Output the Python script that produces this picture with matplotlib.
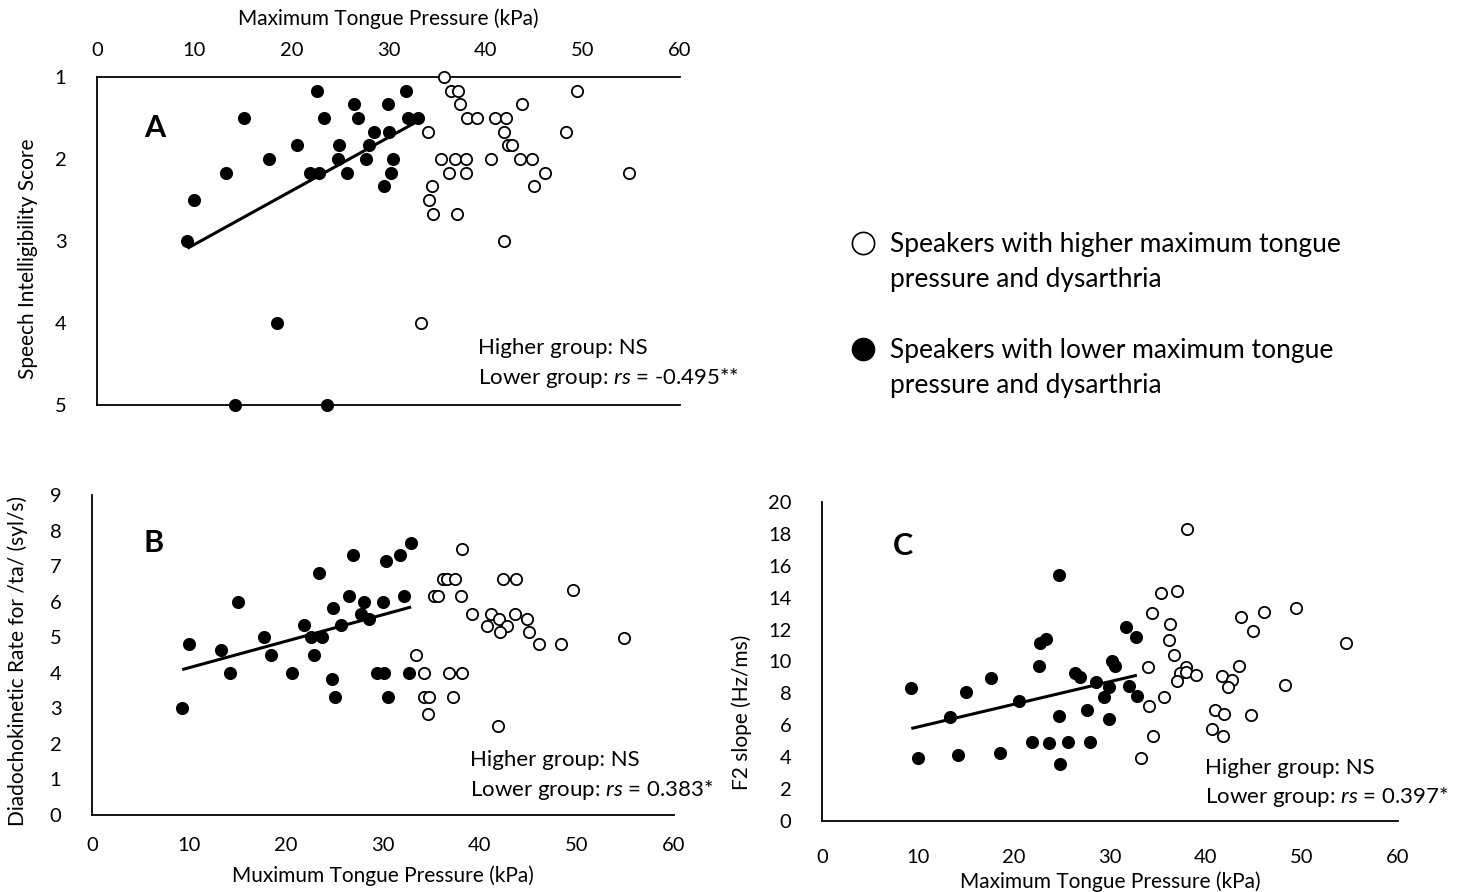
import matplotlib
matplotlib.use("Agg")
import matplotlib.pyplot as plt
import numpy as np
from matplotlib.lines import Line2D

plt.rcParams['font.family'] = ['Lato', 'DejaVu Sans']
plt.rcParams['mathtext.fontset'] = 'custom'
plt.rcParams['mathtext.rm'] = 'Lato'
plt.rcParams['mathtext.it'] = 'Lato:italic'

# Panel A: speech intelligibility score
a_low_x = [22.6, 31.8, 26.5, 29.9, 15.1, 23.4, 26.9, 32.0, 33.0, 28.5, 30.0, 20.6, 24.9, 28.0, 17.7,
           24.8, 27.7, 30.5, 13.3, 21.9, 22.8, 25.7, 30.3, 29.5, 10.0, 9.3, 18.5, 14.2, 23.7]
a_low_y = [1.17, 1.17, 1.33, 1.33, 1.5, 1.5, 1.5, 1.5, 1.5, 1.67, 1.67, 1.83, 1.83, 1.83, 2.0,
           2.0, 2.0, 2.0, 2.17, 2.17, 2.17, 2.17, 2.17, 2.33, 2.5, 3.0, 4.0, 5.0, 5.0]
a_high_x = [35.7, 36.4, 37.2, 49.4, 37.4, 43.7, 38.1, 39.1, 41.0, 42.1, 34.1, 41.9, 48.3, 42.3, 42.7, 35.4,
            36.8, 38.0, 40.6, 43.5, 44.8, 36.2, 38.0, 46.1, 54.7, 34.5, 45.0, 34.2, 34.6, 37.1, 41.9, 33.3]
a_high_y = [1.0, 1.17, 1.17, 1.17, 1.33, 1.33, 1.5, 1.5, 1.5, 1.5, 1.67, 1.67, 1.67, 1.83, 1.83, 2.0,
            2.0, 2.0, 2.0, 2.0, 2.0, 2.17, 2.17, 2.17, 2.17, 2.33, 2.33, 2.5, 2.67, 2.67, 3.0, 4.0]
a_fit = (-0.0654, 3.698)  # slope, intercept

# Panel B: diadochokinetic rate
b_low_x = [32.9, 26.9, 31.8, 30.3, 23.4, 26.5, 32.2, 15.1, 28.0, 30.0, 24.8, 27.7, 28.6, 25.7, 21.9, 22.6,
           23.7, 17.7, 10.0, 13.3, 18.5, 22.9, 14.2, 20.6, 29.4, 30.1, 32.7, 24.7, 25.0, 30.5, 9.3]
b_low_y = [7.65, 7.30, 7.30, 7.14, 6.81, 6.15, 6.15, 5.98, 5.98, 5.98, 5.82, 5.66, 5.50, 5.33, 5.33, 5.0,
           5.0, 5.0, 4.82, 4.65, 4.49, 4.49, 4.0, 4.0, 4.0, 4.0, 4.0, 3.83, 3.32, 3.32, 3.0]
b_high_x = [38.1, 36.2, 36.6, 37.4, 42.4, 43.7, 49.6, 35.3, 35.7, 38.0, 39.2, 41.1, 43.6, 42.0, 44.8, 40.7,
            42.8, 42.1, 45.1, 54.8, 46.1, 48.4, 33.4, 34.2, 36.8, 38.1, 34.2, 34.7, 37.2, 34.6, 41.9]
b_high_y = [7.47, 6.65, 6.65, 6.65, 6.65, 6.65, 6.32, 6.15, 6.15, 6.15, 5.65, 5.65, 5.65, 5.50, 5.50, 5.32,
            5.32, 5.15, 5.15, 4.99, 4.82, 4.82, 4.49, 4.0, 4.0, 4.0, 3.32, 3.32, 3.32, 2.83, 2.50]
b_fit = (0.0746, 3.396)

# Panel C: F2 slope
c_low_x = [24.7, 31.7, 32.7, 23.3, 22.7, 30.2, 30.5, 22.6, 26.4, 26.9, 17.6, 28.5, 9.3, 29.9, 32.0, 15.0,
           32.8, 29.4, 20.5, 13.3, 24.7, 27.6, 29.9, 21.9, 23.6, 25.6, 27.9, 10.0, 14.2, 18.5, 24.8]
c_low_y = [15.43, 12.15, 11.56, 11.41, 11.14, 10.05, 9.74, 9.74, 9.28, 9.05, 8.94, 8.69, 8.34, 8.38, 8.44,
           8.06, 7.83, 7.79, 7.54, 6.49, 6.60, 6.97, 6.39, 4.96, 4.88, 4.96, 4.98, 3.92, 4.15, 4.29, 3.60]
c_high_x = [38.0, 35.3, 37.0, 49.4, 34.4, 46.0, 43.6, 36.3, 44.9, 36.1, 54.6, 36.7, 34.0, 43.4, 37.9, 37.3,
            37.9, 39.0, 41.7, 42.7, 37.0, 42.3, 48.2, 35.6, 34.1, 40.9, 41.9, 44.7, 40.6, 41.8, 34.5, 33.2]
c_high_y = [18.32, 14.32, 14.39, 13.36, 13.03, 13.13, 12.82, 12.36, 11.90, 11.37, 11.14, 10.41, 9.68, 9.74,
            9.68, 9.26, 9.36, 9.17, 9.07, 8.86, 8.75, 8.42, 8.52, 7.77, 7.18, 6.97, 6.68, 6.62, 5.76, 5.30,
            5.34, 3.92]
c_fit = (0.142, 4.48)

x_ticks = [0, 10, 20, 30, 40, 50, 60]
a_ticks = [1, 2, 3, 4, 5]
b_ticks = list(range(0, 10))
c_ticks = list(range(0, 21, 2))

W, H = 1466, 892
fig = plt.figure(figsize=(W / 100, H / 100), dpi=100)


def px_axes(x0, x1, y_top, y_bot):
    return fig.add_axes([x0 / W, 1 - y_bot / H, (x1 - x0) / W, (y_bot - y_top) / H])


TICK_FS = 14.5
LAB_FS = 15
ANN_FS = 16
LET_FS = 22
MS = 66


def draw_points(ax, lx, ly, hx, hy, fit):
    ax.scatter(hx, hy, s=MS, facecolor='white', edgecolor='black', linewidth=1.3, zorder=3, clip_on=False)
    ax.scatter(lx, ly, s=MS, facecolor='black', edgecolor='black', linewidth=1.3, zorder=4, clip_on=False)
    xs = np.array([min(lx), max(lx)])
    ax.plot(xs, fit[0] * xs + fit[1], color='black', lw=2.2, zorder=5, solid_capstyle='butt')


def style(ax):
    ax.tick_params(length=0, labelsize=TICK_FS)
    for s in ax.spines.values():
        s.set_linewidth(1.3)
    ax.spines['right'].set_visible(False)


# ---- Panel A
axA = px_axes(97, 680, 77, 405)
draw_points(axA, a_low_x, a_low_y, a_high_x, a_high_y, a_fit)
axA.set_xlim(0, 60)
axA.set_ylim(5, 1)
axA.set_xticks(x_ticks)
axA.set_yticks(a_ticks)
style(axA)
axA.xaxis.tick_top()
axA.xaxis.set_label_position('top')
axA.tick_params(axis='x', pad=13)
axA.tick_params(axis='y', pad=22)
axA.set_xlabel('Maximum Tongue Pressure (kPa)', fontsize=LAB_FS, va='center')
axA.xaxis.set_label_coords(0.5, (405 - 19) / 328)
axA.set_ylabel('Speech Intelligibility Score', fontsize=LAB_FS, va='center', ha='center')
axA.yaxis.set_label_coords((28 - 97) / 583, 0.445)
axA.text(0.0995, 0.845, 'A', transform=axA.transAxes, fontsize=LET_FS, fontweight='bold', ha='center', va='center')
axA.text(0.653, 0.174, 'Higher group: NS', transform=axA.transAxes, fontsize=ANN_FS, va='center')
axA.text(0.653, 0.082, 'Lower group: $rs$ = -0.495**', transform=axA.transAxes, fontsize=ANN_FS, va='center')

# ---- Panel B
axB = px_axes(92, 674, 495, 815)
draw_points(axB, b_low_x, b_low_y, b_high_x, b_high_y, b_fit)
axB.set_xlim(0, 60)
axB.set_ylim(0, 9)
axB.set_xticks(x_ticks)
axB.set_yticks(b_ticks)
style(axB)
axB.spines['top'].set_visible(False)
axB.tick_params(axis='x', pad=16)
axB.tick_params(axis='y', pad=22)
axB.set_xlabel('Muximum Tongue Pressure (kPa)', fontsize=LAB_FS, va='center')
axB.xaxis.set_label_coords(0.5, (815 - 876) / 320)
axB.set_ylabel('Diadochokinetic Rate for /ta/ (syl/s)', fontsize=LAB_FS, va='center', ha='center')
axB.yaxis.set_label_coords((18 - 92) / 582, 0.48)
axB.text(0.105, 0.85, 'B', transform=axB.transAxes, fontsize=LET_FS, fontweight='bold', ha='center', va='center')
axB.text(0.649, 0.172, 'Higher group: NS', transform=axB.transAxes, fontsize=ANN_FS, va='center')
axB.text(0.649, 0.078, 'Lower group: $rs$ = 0.383*', transform=axB.transAxes, fontsize=ANN_FS, va='center')

# ---- Panel C
axC = px_axes(822, 1398, 502, 821)
draw_points(axC, c_low_x, c_low_y, c_high_x, c_high_y, c_fit)
axC.set_xlim(0, 60)
axC.set_ylim(0, 20)
axC.set_xticks(x_ticks)
axC.set_yticks(c_ticks)
style(axC)
axC.spines['top'].set_visible(False)
axC.tick_params(axis='x', pad=20)
axC.tick_params(axis='y', pad=22)
axC.set_xlabel('Maximum Tongue Pressure (kPa)', fontsize=LAB_FS, va='center')
axC.xaxis.set_label_coords(0.5, (821 - 882) / 319)
axC.set_ylabel('F2 slope (Hz/ms)', fontsize=LAB_FS, va='center', ha='center')
axC.yaxis.set_label_coords((742 - 822) / 576, 0.34)
axC.text(0.141, 0.862, 'C', transform=axC.transAxes, fontsize=LET_FS, fontweight='bold', ha='center', va='center')
axC.text(0.665, 0.166, 'Higher group: NS', transform=axC.transAxes, fontsize=ANN_FS, va='center')
axC.text(0.665, 0.075, 'Lower group: $rs$ = 0.397*', transform=axC.transAxes, fontsize=ANN_FS, va='center')

# ---- Legend
blank = Line2D([], [], linestyle='none')
h_open = Line2D([], [], linestyle='none', marker='o', markersize=16,
                markerfacecolor='white', markeredgecolor='black', markeredgewidth=1.2)
h_fill = Line2D([], [], linestyle='none', marker='o', markersize=16,
                markerfacecolor='black', markeredgecolor='black')
fig.legend([h_open, blank, blank, h_fill, blank],
           ['Speakers with higher maximum tongue', 'pressure and dysarthria', ' ',
            'Speakers with lower maximum tongue', 'pressure and dysarthria'],
           loc='upper left', bbox_to_anchor=(850 / W, 1 - 232 / H), frameon=False,
           fontsize=19, handlelength=1.0, handletextpad=0.5, labelspacing=0.39,
           borderaxespad=0, borderpad=0)

fig.savefig('out.png', dpi=100)
